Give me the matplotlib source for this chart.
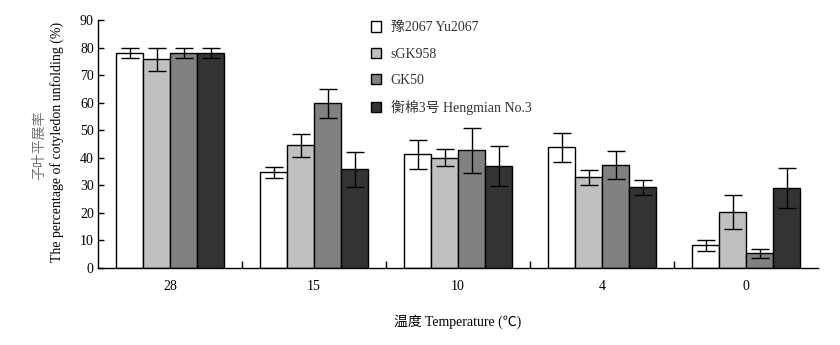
import matplotlib
matplotlib.use("Agg")
import matplotlib.pyplot as plt
import numpy as np
from matplotlib.patches import Patch

plt.rcParams['font.family'] = ['Liberation Serif', 'Noto Sans CJK SC']
plt.rcParams['font.size'] = 10

categories = ['28', '15', '10', '4', '0']
series_names = ['豫2067 Yu2067', 'sGK958', 'GK50', '衡棉3号 Hengmian No.3']
yu2067 = [78.0, 34.7, 41.2, 43.8, 8.2]
yu2067_err = [1.8, 2.0, 5.4, 5.3, 2.0]
sgk958 = [75.7, 44.5, 40.1, 32.9, 20.2]
sgk958_err = [4.1, 4.2, 3.2, 2.7, 6.2]
gk50 = [78.0, 59.7, 42.7, 37.3, 5.3]
gk50_err = [1.7, 5.4, 8.2, 5.0, 1.6]
hengmian = [78.0, 35.8, 36.9, 29.3, 29.0]
hengmian_err = [1.7, 6.4, 7.2, 2.7, 7.4]
colors = ['#ffffff', '#c0c0c0', '#808180', '#323433']

values = [yu2067, sgk958, gk50, hengmian]
errs = [yu2067_err, sgk958_err, gk50_err, hengmian_err]

fig = plt.figure(figsize=(8.4, 3.45), dpi=100)
ax = fig.add_axes([98/840, 1-268/345, (818-98)/840, (268-20)/345])

x = np.arange(len(categories))
w = 0.1875
for i, (v, e, c) in enumerate(zip(values, errs, colors)):
    pos = x + (i - 1.5) * w
    ax.bar(pos, v, width=w, color=c, edgecolor='black', linewidth=1.0, zorder=2)
    ax.errorbar(pos, v, yerr=e, fmt='none', ecolor='black', elinewidth=1.0,
                capsize=6.5, capthick=1.0, zorder=3)

ax.set_xlim(-0.5, 4.5)
ax.set_ylim(0, 90)
ax.set_yticks(np.arange(0, 91, 10))
ax.set_xticks(x)
ax.set_xticklabels(categories)
ax.set_xticks([0.5, 1.5, 2.5, 3.5], minor=True)
ax.tick_params(axis='x', which='major', length=0, pad=9)
ax.tick_params(axis='x', which='minor', direction='in', length=5, width=1)
ax.tick_params(axis='y', direction='in', length=4, width=1, pad=3)
for s in ['top', 'right']:
    ax.spines[s].set_visible(False)
for s in ['left', 'bottom']:
    ax.spines[s].set_linewidth(1.0)

fig.text(40/840, 1-145/345, '子叶平展率', rotation=90, ha='center', va='center',
         color='#777777', fontsize=10)
fig.text(57/840, 1-142/345, 'The percentage of cotyledon unfolding (%)', rotation=90,
         ha='center', va='center', fontsize=10)
fig.text(458/840, 1-322/345, '温度 Temperature (℃)', ha='center', va='center', fontsize=10)

handles = [Patch(facecolor=c, edgecolor='black', linewidth=1.0) for c in colors]
leg = ax.legend(handles, series_names, loc='upper left',
                bbox_to_anchor=((358-98)/720, 1.045), frameon=False,
                handlelength=0.75, handleheight=0.75, handletextpad=0.7,
                labelspacing=0.95, fontsize=10)
for t in leg.get_texts():
    t.set_color('#333333')

fig.savefig('out.png', dpi=100)
